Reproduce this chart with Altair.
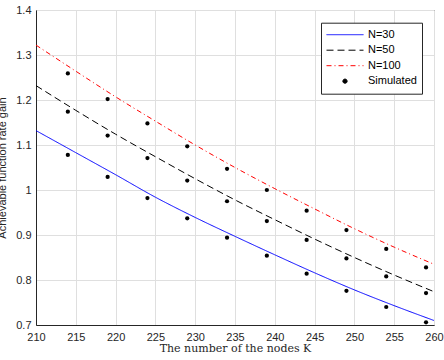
import altair as alt
import pandas as pd

# Analytical curves
K_line = [210, 215, 220, 225, 230, 235, 240, 245, 250, 255, 260]
n30 = [1.132, 1.083, 1.034, 0.984, 0.939, 0.897, 0.856, 0.816, 0.778, 0.743, 0.710]
n50 = [1.232, 1.177, 1.124, 1.074, 1.025, 0.978, 0.934, 0.891, 0.850, 0.811, 0.774]
n100 = [1.322, 1.264, 1.207, 1.153, 1.100, 1.050, 1.003, 0.958, 0.914, 0.873, 0.835]

# Simulated points
K_sim = [214, 219, 224, 229, 234, 239, 244, 249, 254, 259]
sim30 = [1.078, 1.029, 0.982, 0.937, 0.894, 0.854, 0.814, 0.776, 0.740, 0.706]
sim50 = [1.174, 1.121, 1.071, 1.021, 0.975, 0.931, 0.889, 0.848, 0.808, 0.771]
sim100 = [1.259, 1.202, 1.148, 1.097, 1.047, 1.000, 0.954, 0.911, 0.869, 0.828]

series_names = ["N=30", "N=50", "N=100", "Simulated"]
x_ticks = [210, 215, 220, 225, 230, 235, 240, 245, 250, 255, 260]
y_ticks = [0.7, 0.8, 0.9, 1.0, 1.1, 1.2, 1.3, 1.4]

colors = ["#0000ff", "#000000", "#ff0000", "#000000"]
dashes = [[1, 0], [7, 4], [5, 3, 1, 3], [1, 0]]
shapes = ["stroke", "stroke", "stroke", "circle"]
sizes = [1369, 1369, 1369, 18]

rows = []
for name, vals in zip(series_names[:3], [n30, n50, n100]):
    for k, v in zip(K_line, vals):
        rows.append({"K": k, "gain": v, "series": name})
lines_df = pd.DataFrame(rows)

prow = []
for vals in [sim30, sim50, sim100]:
    for k, v in zip(K_sim, vals):
        prow.append({"K": k, "gain": v, "series": "Simulated"})
pts_df = pd.DataFrame(prow)

xscale = alt.Scale(domain=[210, 260], nice=False, zero=False)
yscale = alt.Scale(domain=[0.7, 1.4], nice=False, zero=False)

xaxis = alt.Axis(
    values=x_ticks, title="The number of the nodes K", format="d",
    titleFont="DejaVu Serif", titleFontSize=11, titleFontWeight="normal",
    titleColor="#262626", titleBaseline="alphabetic", titleY=26.5,
    labelPadding=6.5, labelFlush=False, labelOverlap=False,
)
yaxis = alt.Axis(
    values=y_ticks, title="Achievable function rate gain", format="~g",
    titleFont="Liberation Sans", titleFontSize=11, titleFontWeight="normal",
    titleColor="#262626", titleAngle=270, titleBaseline="alphabetic",
    titleAlign="center", titleX=-31, titleY=157.5,
    labelPadding=5, labelFlush=False, labelOverlap=False,
)

legend = alt.Legend(
    title=None, orient="none", legendX=285, legendY=12.7,
    strokeColor="#262626", fillColor="white", padding=5,
    labelFont="Liberation Sans", labelFontSize=11, labelColor="#000000",
    labelOffset=4, clipHeight=14, rowPadding=1.5,
    symbolStrokeWidth=1, symbolFillColor="#000000",
)

color = alt.Color("series:N", scale=alt.Scale(domain=series_names, range=colors), legend=legend)

line = alt.Chart(lines_df).mark_line(strokeWidth=1, interpolate="monotone").encode(
    x=alt.X("K:Q", scale=xscale, axis=xaxis),
    y=alt.Y("gain:Q", scale=yscale, axis=yaxis),
    color=color,
    strokeDash=alt.StrokeDash("series:N", scale=alt.Scale(domain=series_names, range=dashes), legend=legend),
)

points = alt.Chart(pts_df).mark_point(filled=True, opacity=1).encode(
    x=alt.X("K:Q", scale=xscale, axis=xaxis),
    y=alt.Y("gain:Q", scale=yscale, axis=yaxis),
    color=color,
    shape=alt.Shape("series:N", scale=alt.Scale(domain=series_names, range=shapes), legend=legend),
    size=alt.Size("series:N", scale=alt.Scale(type="ordinal", domain=series_names, range=sizes), legend=legend),
)

chart = alt.layer(line, points).properties(
    width=398, height=315,
    autosize=alt.AutoSizeParams(type="none"),
    padding={"left": 36, "top": 10, "right": 10, "bottom": 35},
).configure_view(
    stroke="#262626", strokeWidth=1
).configure_axis(
    grid=True, gridColor="#dfdfdf", gridWidth=1,
    domainColor="#262626", domainWidth=1,
    ticks=False, tickSize=0,
    labelFont="Liberation Sans", labelFontSize=11, labelColor="#262626",
)

chart.save("out.html", embed_options={"renderer": "svg", "actions": False})
